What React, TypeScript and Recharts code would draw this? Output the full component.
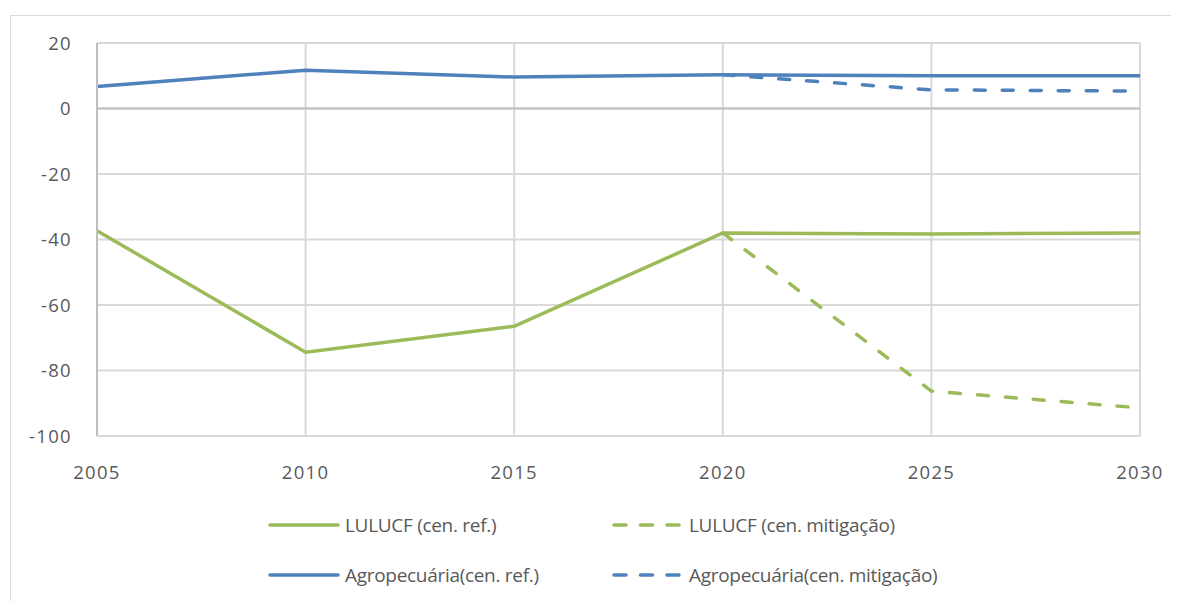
import React from 'react';
import { LineChart, Line, XAxis, YAxis, CartesianGrid, ReferenceLine } from 'recharts';

const YEARS = [2005, 2010, 2015, 2020, 2025, 2030];
const LULUCF_REF = [-37.3, -74.4, -66.5, -38.0, -38.3, -38.0];
const LULUCF_MIT = [null, null, null, -38.0, -86.3, -91.4];
const AGRO_REF = [6.7, 11.7, 9.6, 10.3, 10.0, 10.0];
const AGRO_MIT = [null, null, null, 10.3, 5.7, 5.3];
const Y_TICKS = [-100, -80, -60, -40, -20, 0, 20];

const GREEN = '#9bbb59';
const BLUE = '#4f81bd';
const TEXT = '#595959';
const FONT = '"Open Sans", "Noto Sans", sans-serif';

const data = YEARS.map((year, i) => ({
    year,
    lulucfRef: LULUCF_REF[i],
    lulucfMit: LULUCF_MIT[i],
    agroRef: AGRO_REF[i],
    agroMit: AGRO_MIT[i],
}));

const LEGEND = [
    { label: 'LULUCF (cen. ref.)', color: GREEN, dashed: false, x: 260, y: 517 },
    { label: 'LULUCF (cen. mitigação)', color: GREEN, dashed: true, x: 604, y: 517 },
    { label: 'Agropecuária(cen. ref.)', color: BLUE, dashed: false, x: 260, y: 567 },
    { label: 'Agropecuária(cen. mitigação)', color: BLUE, dashed: true, x: 604, y: 567 },
];

function LegendItem({ label, color, dashed, x, y }: { label: string; color: string; dashed: boolean; x: number; y: number }) {
    return (
        <div style={{ position: 'absolute', left: x, top: y - 13, height: 26, display: 'flex', alignItems: 'center' }}>
            <svg width={77} height={24}>
                <line
                    x1={2}
                    y1={12}
                    x2={dashed ? 70 : 70}
                    y2={12}
                    stroke={color}
                    strokeWidth={3.5}
                    strokeLinecap="round"
                    strokeDasharray={dashed ? '12 14.5' : undefined}
                />
            </svg>
            <span style={{ fontFamily: FONT, fontSize: 19, color: TEXT, whiteSpace: 'nowrap', letterSpacing: -0.3 }}>
                {label}
            </span>
        </div>
    );
}

export default function App() {
    return (
        <div style={{ position: 'relative', width: 1171, height: 593, overflow: 'hidden', background: '#fff' }}>
            <div
                style={{
                    position: 'absolute',
                    left: 2,
                    top: 7,
                    width: 1300,
                    height: 800,
                    border: '1px solid #d9d9d9',
                }}
            />
            <LineChart width={1171} height={593} data={data} margin={{ top: 35, right: 39, left: 0, bottom: 105 }}>
                <CartesianGrid stroke="#d9d9d9" strokeWidth={2} />
                <XAxis
                    dataKey="year"
                    type="number"
                    domain={[2005, 2030]}
                    ticks={YEARS}
                    axisLine={false}
                    tickLine={false}
                    tickSize={0}
                    tickMargin={30}
                    height={60}
                    tick={{ fontSize: 18.5, fill: TEXT, fontFamily: FONT, letterSpacing: 1.3 }}
                />
                <YAxis
                    type="number"
                    domain={[-100, 20]}
                    ticks={Y_TICKS}
                    width={89}
                    axisLine={{ stroke: '#bfbfbf', strokeWidth: 2 }}
                    tickLine={false}
                    tickSize={0}
                    tickMargin={25}
                    tick={{ fontSize: 18.5, fill: TEXT, fontFamily: FONT, letterSpacing: 1.3 }}
                />
                <ReferenceLine y={0} stroke="#bfbfbf" strokeWidth={2} />
                <Line dataKey="lulucfRef" stroke={GREEN} strokeWidth={3.5} dot={false} isAnimationActive={false} />
                <Line
                    dataKey="lulucfMit"
                    stroke={GREEN}
                    strokeWidth={3.5}
                    strokeDasharray="11 17"
                    strokeLinecap="round"
                    dot={false}
                    isAnimationActive={false}
                />
                <Line dataKey="agroRef" stroke={BLUE} strokeWidth={3.5} dot={false} isAnimationActive={false} />
                <Line
                    dataKey="agroMit"
                    stroke={BLUE}
                    strokeWidth={3.5}
                    strokeDasharray="11 17"
                    strokeLinecap="round"
                    dot={false}
                    isAnimationActive={false}
                />
            </LineChart>
            {LEGEND.map((item) => (
                <LegendItem key={item.label} {...item} />
            ))}
        </div>
    );
}
